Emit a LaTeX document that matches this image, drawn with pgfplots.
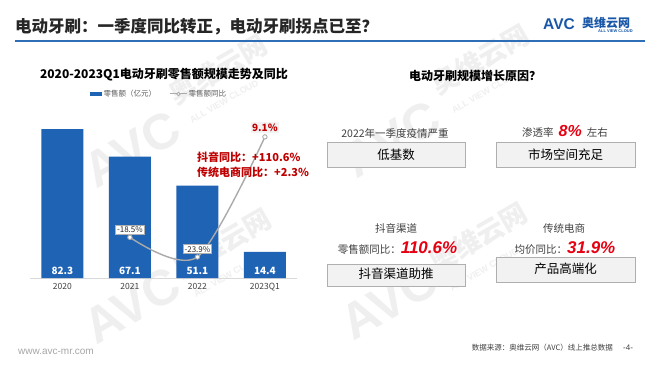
\documentclass[border=0pt]{standalone}
\usepackage{fontspec}
\setmainfont{Noto Sans CJK SC}
\newfontfamily\lib{Liberation Sans}
\usepackage{pgfplots}
\pgfplotsset{compat=1.18}
\definecolor{barblue}{RGB}{31,99,181}
\definecolor{titleblue}{RGB}{46,110,182}
\definecolor{logoblue}{RGB}{24,86,168}
\definecolor{linegray}{RGB}{170,170,170}
\definecolor{axisgray}{RGB}{217,217,217}
\definecolor{textdark}{RGB}{38,38,38}
\definecolor{textgray}{RGB}{64,64,64}
\definecolor{legtext}{RGB}{89,89,89}
\definecolor{annred}{RGB}{192,0,0}
\definecolor{bigred}{RGB}{230,0,18}
\definecolor{boxfill}{RGB}{242,242,242}
\definecolor{boxdraw}{RGB}{175,175,175}
\definecolor{wm}{RGB}{205,205,205}
\definecolor{footgray}{RGB}{166,166,166}
\newcommand{\fs}[1]{\fontsize{#1}{#1}\selectfont}
\begin{document}
\begin{tikzpicture}[x=1pt,y=1pt]
\path[use as bounding box, fill=white] (0,0) rectangle (660,372);

% ---------- watermarks (behind) ----------
\begin{scope}[opacity=0.3]
\foreach \px/\py in {97/190, 357/180, 97/346, 354/342}{
  \node[anchor=south west, rotate=30, inner sep=0pt, text=wm, font=\lib\bfseries\fs{50}] at (\px,372-\py) {AVC};
}
\foreach \px/\py in {178/108, 440/98, 182/282, 438/276}{
  \node[anchor=south west, rotate=30, inner sep=0pt, text=wm, font=\bfseries\fs{27}] at (\px,372-\py) {奥维云网};
  \node[anchor=south west, rotate=30, inner sep=0pt, text=wm, font=\lib\bfseries\fs{9}] at (\px+14,372-\py-16) {ALL VIEW CLOUD};
}
\end{scope}

% ---------- header ----------
\node[anchor=west, inner sep=0pt, text=textdark, font=\bfseries\fs{16.5}] at (15,372-27) {电动牙刷：一季度同比转正，电动牙刷拐点已至？};
\draw[titleblue, line width=2pt] (15,372-41) -- (645,372-41);
\node[anchor=west, inner sep=0pt, text=logoblue, font=\lib\bfseries\fs{15.5}] at (543,372-24) {AVC};
\node[anchor=west, inner sep=0pt, text=logoblue, font=\bfseries\fs{12}] at (582,372-23) {奥维云网};
\node[anchor=west, inner sep=0pt, text=logoblue, font=\lib\bfseries\fs{4}] at (598,372-31) {ALL VIEW CLOUD};

% ---------- left chart ----------
\node[text=black, font=\bfseries\fs{12}] at (164,372-75) {2020-2023Q1电动牙刷零售额规模走势及同比};
\fill[barblue] (90,372-96) rectangle (102,372-92);
\node[anchor=west, inner sep=1.5pt, text=legtext, font=\fs{7.5}] at (102,372-94) {零售额（亿元）};
\draw[linegray, line width=1pt] (170,372-94) -- (187,372-94);
\draw[linegray, fill=white, line width=0.8pt] (178.5,372-94) circle (1.8);
\node[anchor=west, inner sep=1.5pt, text=legtext, font=\fs{7.5}] at (187,372-94) {零售额同比};

\begin{axis}[at={(30pt,94pt)}, anchor=south west, scale only axis,
  width=267.3pt, height=162.9pt,
  xmin=-0.48, xmax=3.48, ymin=0, ymax=90,
  axis y line=none, ytick=\empty,
  axis x line*=bottom, x axis line style={draw=axisgray, line width=0.8pt, -},
  xtick={0,1,2,3}, xticklabels={2020,2021,2022,2023Q1},
  major tick length=0pt,
  xticklabel style={font=\fs{8.5}, text=textgray, yshift=-1.5pt},
  clip=false]
\addplot[ybar, bar width=42pt, fill=barblue, draw=none] coordinates {(0,82.3) (1,67.1) (2,51.1) (3,14.4)};
\addplot[draw=none, mark=none, nodes near coords, point meta=explicit symbolic,
  nodes near coords style={text=white, font=\bfseries\fs{10}, anchor=center}]
  coordinates {(0,3.9)[82.3] (1,3.9)[67.1] (2,3.9)[51.1] (3,3.9)[14.4]};
\end{axis}

\begin{axis}[at={(30pt,94pt)}, anchor=south west, scale only axis,
  width=267.3pt, height=162.9pt,
  xmin=-0.48, xmax=3.48, ymin=-29.67, ymax=15.08,
  hide axis, clip=false]
\addplot[smooth, linegray, line width=1.4pt, mark=*, mark size=2.2pt,
  mark options={fill=white, draw=linegray, line width=0.9pt}]
  coordinates {(1,-18.5) (2,-23.9) (3,9.1)};
\addplot[draw=none, mark=none, nodes near coords, point meta=explicit symbolic,
  nodes near coords style={anchor=south, yshift=3pt, draw=boxdraw, fill=white, inner sep=1.5pt, line width=0.5pt, font=\fs{8}, text=textdark}]
  coordinates {(1,-18.5)[-18.5\%] (2,-23.9)[-23.9\%]};
\addplot[draw=none, mark=none, nodes near coords, point meta=explicit symbolic,
  nodes near coords style={anchor=south, yshift=4pt, fill=boxfill, inner sep=1.5pt, font=\bfseries\fs{10}, text=annred}]
  coordinates {(3,9.1)[9.1\%]};
\end{axis}

\node[anchor=west, inner sep=0pt, text=annred, font=\bfseries\fs{11}] at (197,372-157) {抖音同比：+110.6\%};
\node[anchor=west, inner sep=0pt, text=annred, font=\bfseries\fs{11}] at (197,372-172) {传统电商同比：+2.3\%};

% ---------- right panel ----------
\node[text=black, font=\bfseries\fs{12}] at (475,372-76) {电动牙刷规模增长原因？};

\node[text=textgray, font=\fs{10.5}] at (395,372-133) {2022年一季度疫情严重};
\draw[boxdraw, fill=boxfill, line width=0.7pt] (327,372-142) rectangle (465,372-167);
\node[text=black, font=\fs{12.5}] at (396,372-154.5) {低基数};

\node[text=textgray, font=\fs{10.5}] at (565,372-131) {渗透率\hspace{5pt}{\lib\bfseries\itshape\fs{16}\color{bigred}8\%}\hspace{5pt}左右};
\draw[boxdraw, fill=boxfill, line width=0.7pt] (496,372-142) rectangle (635,372-167);
\node[text=black, font=\fs{12.5}] at (565.5,372-154.5) {市场空间充足};

\node[text=textgray, font=\fs{10.5}] at (396,372-228) {抖音渠道};
\node[text=textgray, font=\fs{10.5}] at (397.5,372-248) {零售额同比：{\lib\bfseries\itshape\fs{17}\color{bigred}110.6\%}};
\draw[boxdraw, fill=boxfill, line width=0.7pt] (327,372-264) rectangle (465,372-286);
\node[text=black, font=\fs{12.5}] at (396,372-274) {抖音渠道助推};

\node[text=textgray, font=\fs{10.5}] at (564,372-228) {传统电商};
\node[text=textgray, font=\fs{10.5}] at (565,372-248) {均价同比：{\lib\bfseries\itshape\fs{17}\color{bigred}31.9\%}};
\draw[boxdraw, fill=boxfill, line width=0.7pt] (496,372-257) rectangle (635,372-282);
\node[text=black, font=\fs{12.5}] at (565.5,372-269) {产品高端化};

% ---------- footer ----------
\node[anchor=west, inner sep=0pt, text=footgray, font=\lib\fs{10}] at (18,372-352) {www.avc-mr.com};
\node[anchor=east, inner sep=0pt, text=textgray, font=\fs{7.5}] at (613,372-348) {数据来源：奥维云网（AVC）线上推总数据};
\node[anchor=west, inner sep=0pt, text=textgray, font=\lib\fs{8}] at (623,372-348) {-4-};
\end{tikzpicture}
\end{document}
